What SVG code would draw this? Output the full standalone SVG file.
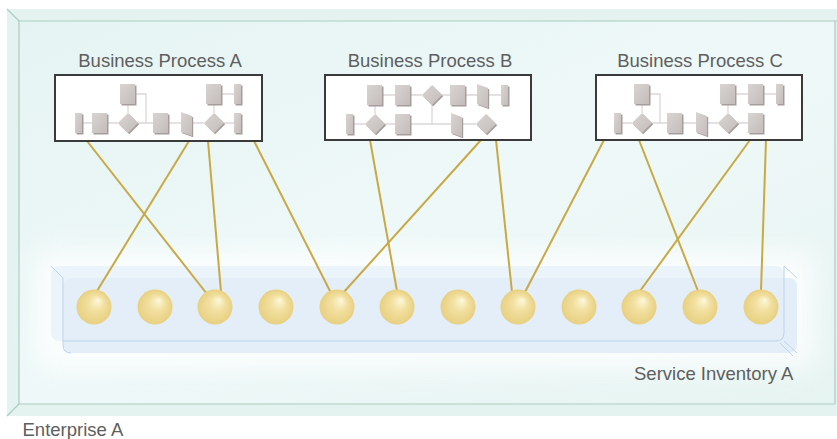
<svg xmlns="http://www.w3.org/2000/svg" xmlns:xlink="http://www.w3.org/1999/xlink" width="837" height="439" viewBox="0 0 837 439">
<style>
.lbl{font-family:"Liberation Sans",Arial,sans-serif;font-size:18.5px;fill:#5e5e5e;}
.pbox{fill:#ffffff;stroke:#3a3a3a;stroke-width:2;}
.flow{fill:none;stroke:#dcd8d6;stroke-width:1.3;}
.conn{stroke:#c8a944;stroke-width:2;fill:none;}
.edge{fill:none;stroke:#a9cdbf;stroke-width:1.2;}
.tline{fill:none;stroke:#bcd3ea;stroke-width:1;}
</style>
<defs>
<linearGradient id="bg" x1="0" y1="0" x2="1" y2="1">
<stop offset="0" stop-color="#e5f4f2"/>
<stop offset="0.5" stop-color="#eef8f8"/>
<stop offset="1" stop-color="#e6f4f1"/>
</linearGradient>
<linearGradient id="sg" x1="0" y1="0" x2="1" y2="1">
<stop offset="0" stop-color="#d9d4d2"/>
<stop offset="1" stop-color="#c3bcba"/>
</linearGradient>
<radialGradient id="ball" cx="0.5" cy="0.5" r="0.5" fx="0.62" fy="0.3">
<stop offset="0" stop-color="#fdf8da"/>
<stop offset="0.45" stop-color="#f2e0a0"/>
<stop offset="1" stop-color="#e8d081"/>
</radialGradient>
<filter id="blur" x="-20%" y="-60%" width="140%" height="220%"><feGaussianBlur stdDeviation="12"/></filter>
<g id="sq"><rect x="1.5" y="1.5" width="15" height="20" fill="#a49d9b"/><rect width="15" height="20" fill="url(#sg)"/></g>
<g id="nr"><rect x="1.5" y="1.5" width="7" height="20" fill="#a49d9b"/><rect width="7" height="20" fill="url(#sg)"/></g>
<g id="dm"><polygon points="1.2,-8.8 11.2,1.2 1.2,11.2 -8.8,1.2" fill="#a49d9b"/><polygon points="0,-10 10,0 0,10 -10,0" fill="url(#sg)"/></g>
<g id="pa"><polygon points="1.2,-9.8 12.2,-5.8 12.2,14.2 1.2,10.2" fill="#a49d9b"/><polygon points="0,-11 11,-7 11,13 0,9" fill="url(#sg)"/></g>
</defs>

<g id="enterprise">
<rect x="7" y="9" width="830" height="407" fill="#e4f3f0"/>
<rect x="19" y="21" width="816" height="383" fill="url(#bg)"/>
<path class="edge" d="M19,404 V21 H837 M835,21 V404 M19,404 H835"/>
<path class="edge" d="M7,9 L19,21 M7,416 L19,404" stroke-width="1"/>
<rect x="34" y="250" width="782" height="120" rx="16" fill="#ffffff" opacity="0.75" filter="url(#blur)"/>
<text class="lbl" x="22.5" y="436">Enterprise A</text>
</g>

<g id="service-inventory">
<rect x="51" y="266" width="733" height="75" rx="8" fill="#ecf4fb"/>
<rect x="63" y="278" width="734" height="75" rx="8" fill="#e4eef8"/>
<path class="tline" d="M51,266 L63,278 M63,278 V345 Q63,353 71,353 M784,266 V333 Q784,341 776,341 H63 M784,266 L797,278 M784,341 L797,353 M780,343 L793,356"/>
<text class="lbl" x="634" y="379.5">Service Inventory A</text>
</g>

<g id="connectors">
<line class="conn" x1="87" y1="141" x2="207" y2="294"/>
<line class="conn" x1="189" y1="141" x2="97" y2="291"/>
<line class="conn" x1="208" y1="141" x2="221" y2="292"/>
<line class="conn" x1="254" y1="141" x2="331" y2="293"/>
<line class="conn" x1="370" y1="140" x2="397" y2="291"/>
<line class="conn" x1="481" y1="140" x2="343" y2="293"/>
<line class="conn" x1="496" y1="140" x2="512" y2="292"/>
<line class="conn" x1="604" y1="140" x2="525" y2="292"/>
<line class="conn" x1="639" y1="140" x2="698" y2="291"/>
<line class="conn" x1="750" y1="140" x2="640" y2="291"/>
<line class="conn" x1="766" y1="140" x2="761" y2="291"/>
</g>

<g id="services">
<circle cx="94" cy="307" r="17.5" fill="url(#ball)"/>
<circle cx="155" cy="307" r="17.5" fill="url(#ball)"/>
<circle cx="215" cy="307" r="17.5" fill="url(#ball)"/>
<circle cx="276" cy="307" r="17.5" fill="url(#ball)"/>
<circle cx="337" cy="307" r="17.5" fill="url(#ball)"/>
<circle cx="397" cy="307" r="17.5" fill="url(#ball)"/>
<circle cx="458" cy="307" r="17.5" fill="url(#ball)"/>
<circle cx="518" cy="307" r="17.5" fill="url(#ball)"/>
<circle cx="579" cy="307" r="17.5" fill="url(#ball)"/>
<circle cx="639" cy="307" r="17.5" fill="url(#ball)"/>
<circle cx="700" cy="307" r="17.5" fill="url(#ball)"/>
<circle cx="761" cy="307" r="17.5" fill="url(#ball)"/>
</g>

<g id="process-a">
<text class="lbl" x="160" y="66.5" text-anchor="middle">Business Process A</text>
<rect class="pbox" x="55" y="75" width="207" height="66"/>
<path class="flow" d="M82,123 H92 M108,123 H118 M138,123 H153 M168,123 H181 M192,123 H204 M224,123 H234 M128,104 V113 M136,94 H146 V123 M222,94 H234 M214,104 V113"/>
<use xlink:href="#sq" x="120" y="84"/>
<use xlink:href="#sq" x="206" y="84"/>
<use xlink:href="#nr" x="234" y="84"/>
<use xlink:href="#nr" x="75" y="113"/>
<use xlink:href="#sq" x="92" y="113"/>
<use xlink:href="#dm" x="128" y="123"/>
<use xlink:href="#sq" x="153" y="113"/>
<use xlink:href="#pa" x="181" y="123"/>
<use xlink:href="#dm" x="214" y="123"/>
<use xlink:href="#nr" x="234" y="113"/>
</g>

<g id="process-b">
<text class="lbl" x="430" y="66.5" text-anchor="middle">Business Process B</text>
<rect class="pbox" x="325" y="75" width="206" height="65"/>
<path class="flow" d="M383,95 H395 M411,95 H422 M442,95 H450 M466,95 H477 M488,95 H501 M375,105 V114 M432,105 V124 M354,124 H365 M385,124 H395 M411,124 H451 M462,124 H476"/>
<use xlink:href="#sq" x="367" y="85"/>
<use xlink:href="#sq" x="395" y="85"/>
<use xlink:href="#dm" x="432" y="95"/>
<use xlink:href="#sq" x="450" y="85"/>
<use xlink:href="#pa" x="477" y="95"/>
<use xlink:href="#nr" x="501" y="85"/>
<use xlink:href="#nr" x="346" y="114"/>
<use xlink:href="#dm" x="375" y="124"/>
<use xlink:href="#sq" x="395" y="114"/>
<use xlink:href="#pa" x="451" y="124"/>
<use xlink:href="#dm" x="486" y="124"/>
</g>

<g id="process-c">
<text class="lbl" x="700" y="66.5" text-anchor="middle">Business Process C</text>
<rect class="pbox" x="596" y="75" width="206" height="65"/>
<path class="flow" d="M650,94 H660 V123 M642,104 V113 M728,104 V113 M736,94 H748 M764,94 H776 M622,123 H632 M652,123 H667 M683,123 H696 M707,123 H718 M738,123 H748"/>
<use xlink:href="#sq" x="634" y="84"/>
<use xlink:href="#sq" x="720" y="84"/>
<use xlink:href="#sq" x="748" y="84"/>
<use xlink:href="#nr" x="776" y="84"/>
<use xlink:href="#nr" x="614" y="113"/>
<use xlink:href="#dm" x="642" y="123"/>
<use xlink:href="#sq" x="667" y="113"/>
<use xlink:href="#pa" x="696" y="123"/>
<use xlink:href="#dm" x="728" y="123"/>
<use xlink:href="#sq" x="748" y="113"/>
</g>
</svg>
